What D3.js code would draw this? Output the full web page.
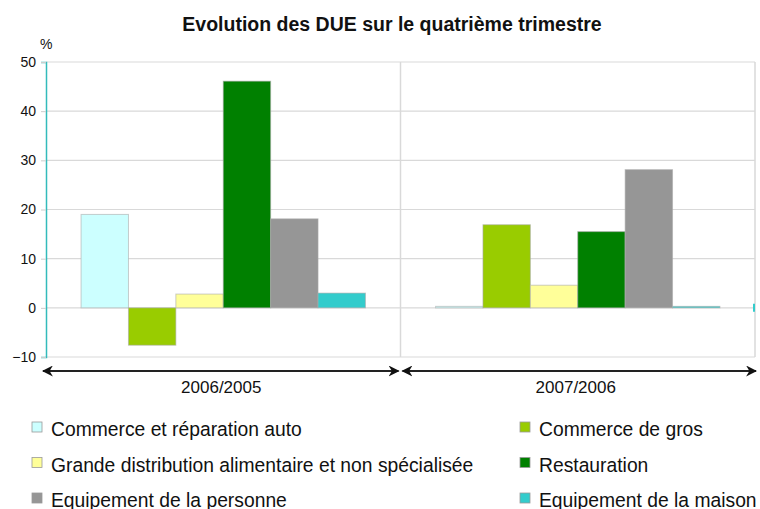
<!DOCTYPE html>
<html>
<head>
<meta charset="utf-8">
<style>
  body { margin: 0; background: #fff; }
  svg text { font-family: "Liberation Sans", Arial, sans-serif; fill: #111; }
</style>
</head>
<body>
<svg width="760" height="509"></svg>
<script src="https://cdnjs.cloudflare.com/ajax/libs/d3/7.8.5/d3.min.js"></script>
<script>

// data
var groups = ["2006/2005", "2007/2006"];
var series = ["Commerce et réparation auto", "Commerce de gros",
              "Grande distribution alimentaire et non spécialisée", "Restauration",
              "Equipement de la personne", "Equipement de la maison"];
var values2006 = [19, -7.6, 2.8, 46.1, 18.1, 3];
var values2007 = [0.3, 16.9, 4.6, 15.5, 28.1, 0.3];
var yTicks = [-10, 0, 10, 20, 30, 40, 50];
var colors = ["#ccffff", "#99cc00", "#ffff99", "#008000", "#969696", "#33cccc"];

var valuesByGroup = [values2006, values2007];

var svg = d3.select("svg"),
    margin = {top: 62, right: 5, bottom: 152, left: 46},
    width = +svg.attr("width") - margin.left - margin.right,
    height = +svg.attr("height") - margin.top - margin.bottom,
    g = svg.append("g").attr("transform", "translate(" + margin.left + "," + margin.top + ")");

var x0 = d3.scaleBand().domain(groups).range([0, width]);
var x1 = d3.scaleBand().domain(series).range([0, x0.bandwidth()]).paddingInner(0).paddingOuter(0.74);
var y = d3.scaleLinear().domain([-10, 50]).range([height, 0]);
var color = d3.scaleOrdinal().domain(series).range(colors);

// title
svg.append("text")
    .attr("x", 392)
    .attr("y", 31)
    .attr("text-anchor", "middle")
    .attr("font-weight", "bold")
    .attr("font-size", "19.5px")
    .text("Evolution des DUE sur le quatrième trimestre");

svg.append("text")
    .attr("x", 40)
    .attr("y", 49)
    .attr("font-size", "14px")
    .text("%");

// grid
g.append("g")
    .selectAll("line")
    .data(yTicks)
    .enter().append("line")
      .attr("x1", 0)
      .attr("x2", width)
      .attr("y1", function(d) { return y(d); })
      .attr("y2", function(d) { return y(d); })
      .attr("stroke", "#d9d9d9")
      .attr("stroke-width", 1.2);

g.append("g")
    .selectAll("line")
    .data(groups)
    .enter().append("line")
      .attr("x1", function(d) { return x0(d) + x0.bandwidth(); })
      .attr("x2", function(d) { return x0(d) + x0.bandwidth(); })
      .attr("y1", 0)
      .attr("y2", height)
      .attr("stroke", "#d9d9d9")
      .attr("stroke-width", 1.5);

// y axis
var yAxis = g.append("g")
    .call(d3.axisLeft(y).tickValues(yTicks).tickSize(5).tickPadding(5));
yAxis.select(".domain").attr("stroke", "#33bbbb").attr("stroke-width", 1.5);
yAxis.selectAll(".tick line").attr("stroke", "#ccc");
yAxis.selectAll(".tick text").attr("font-size", "14px").attr("fill", "#111")
    .attr("font-family", "Liberation Sans, Arial, sans-serif");

// bars
var grp = g.append("g")
  .selectAll("g")
  .data(groups)
  .enter().append("g")
    .attr("transform", function(d) { return "translate(" + x0(d) + ",0)"; });

grp.selectAll("rect")
  .data(function(d, i) {
    return series.map(function(s, j) { return {key: s, value: valuesByGroup[i][j]}; });
  })
  .enter().append("rect")
    .attr("x", function(d) { return x1(d.key); })
    .attr("width", x1.bandwidth())
    .attr("y", function(d) { return y(Math.max(0, d.value)); })
    .attr("height", function(d) { return Math.max(1.5, Math.abs(y(d.value) - y(0))); })
    .attr("fill", function(d) { return color(d.key); })
    .attr("stroke", "#aaaaaa")
    .attr("stroke-opacity", 0.6)
    .attr("stroke-width", 1);

// small teal mark on the right edge
g.append("line")
    .attr("x1", width - 1).attr("x2", width - 1)
    .attr("y1", y(0) - 4).attr("y2", y(0) + 4)
    .attr("stroke", "#33cccc").attr("stroke-width", 2);

// double arrows under each group
var defs = svg.append("defs");
defs.append("marker")
    .attr("id", "arrowEnd")
    .attr("viewBox", "0 0 10 10")
    .attr("refX", 9).attr("refY", 5)
    .attr("markerWidth", 5).attr("markerHeight", 5)
    .attr("orient", "auto")
  .append("path").attr("d", "M0,0 L10,5 L0,10 L3,5 Z").attr("fill", "#111");
defs.append("marker")
    .attr("id", "arrowStart")
    .attr("viewBox", "0 0 10 10")
    .attr("refX", 1).attr("refY", 5)
    .attr("markerWidth", 5).attr("markerHeight", 5)
    .attr("orient", "auto")
  .append("path").attr("d", "M10,0 L0,5 L10,10 L7,5 Z").attr("fill", "#111");

var arrowY = height + 14;
g.append("g")
  .selectAll("line")
  .data(groups)
  .enter().append("line")
    .attr("x1", function(d, i) { return x0(d) + (i === 0 ? -3 : 2); })
    .attr("x2", function(d, i) { return x0(d) + x0.bandwidth() - (i === 0 ? 2 : -1); })
    .attr("y1", arrowY).attr("y2", arrowY)
    .attr("stroke", "#222").attr("stroke-width", 2.2)
    .attr("marker-start", "url(#arrowStart)")
    .attr("marker-end", "url(#arrowEnd)");

g.append("g")
  .selectAll("text")
  .data(groups)
  .enter().append("text")
    .attr("x", function(d) { return x0(d) + x0.bandwidth() / 2 - 2; })
    .attr("y", 393 - margin.top)
    .attr("text-anchor", "middle")
    .attr("font-size", "17px")
    .text(function(d) { return d; });

// legend, two columns
var legend = svg.append("g")
  .selectAll("g")
  .data(series)
  .enter().append("g")
    .attr("transform", function(d, i) {
      return "translate(" + (i % 2 === 0 ? 32 : 520) + "," + (429 + Math.floor(i / 2) * 35.5) + ")";
    });

legend.append("rect")
    .attr("x", 0).attr("y", -7)
    .attr("width", 10).attr("height", 10)
    .attr("fill", function(d) { return color(d); })
    .attr("stroke", "#999").attr("stroke-width", 0.8);

legend.append("text")
    .attr("x", 19)
    .attr("y", 7)
    .attr("font-size", "19.3px")
    .text(function(d) { return d; });

</script>
</body>
</html>
